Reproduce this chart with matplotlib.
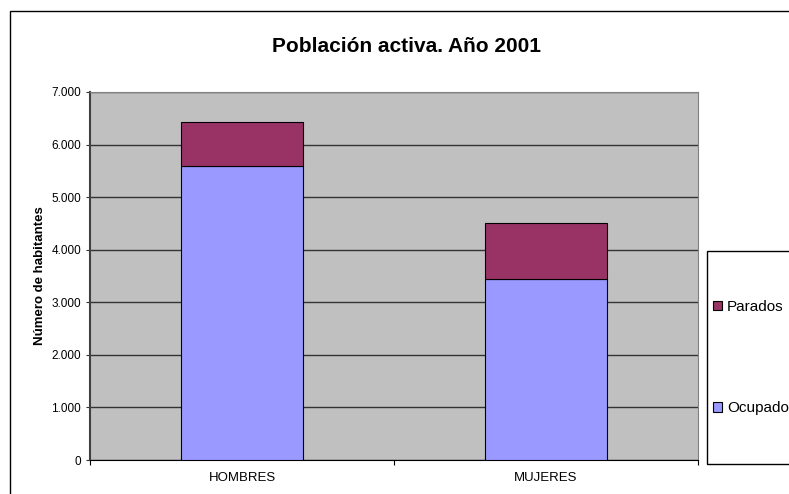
import matplotlib.pyplot as plt
from matplotlib.patches import Rectangle, Patch

categorias = ['HOMBRES', 'MUJERES']
ocupados = [5600, 3450]
parados = [820, 1060]
yticks = [0, 1000, 2000, 3000, 4000, 5000, 6000, 7000]
ylabels = ['0', '1.000', '2.000', '3.000', '4.000', '5.000', '6.000', '7.000']

plt.rcParams['font.family'] = ['Liberation Sans', 'DejaVu Sans']

W, H = 789, 494
fig = plt.figure(figsize=(W / 100, H / 100), dpi=100)
ax = fig.add_axes([90 / W, (H - 460) / H, (698 - 90) / W, (460 - 92) / H])
ax.set_facecolor('#C0C0C0')

x = [0, 1]
ax.bar(x, ocupados, width=0.4, color='#9999FF', edgecolor='black', linewidth=0.8,
       label='Ocupados', zorder=3)
ax.bar(x, parados, width=0.4, bottom=ocupados, color='#993366', edgecolor='black',
       linewidth=0.8, label='Parados', zorder=3)

ax.set_xlim(-0.5, 1.5)
ax.set_ylim(0, 7000)
ax.set_yticks(yticks)
ax.set_yticklabels(ylabels, fontsize=8.5)
ax.grid(axis='y', color='#333333', linewidth=1, zorder=1)
ax.set_axisbelow(True)
ax.tick_params(axis='y', direction='out', length=3, width=0.8, pad=3.5, color='#333333')

ax.set_xticks([-0.5, 0.5, 1.5])
ax.set_xticklabels(['', '', ''])
ax.tick_params(axis='x', which='major', direction='out', length=3.6, width=0.8)
ax.set_xticks(x, minor=True)
ax.set_xticklabels(categorias, minor=True, fontsize=9.5)
ax.tick_params(axis='x', which='minor', length=0, pad=8.5)

ax.spines['left'].set_color('#404040')
ax.spines['left'].set_linewidth(1.5)
ax.spines['bottom'].set_color('black')
ax.spines['top'].set_color('#808080')
ax.spines['right'].set_color('#808080')

ax.set_ylabel('Número de habitantes', fontsize=9.5, fontweight='bold', labelpad=4)

fig.text(406 / W, 1 - 47 / H, 'Población activa. Año 2001', ha='center', va='center',
         fontsize=15, fontweight='bold')

# marco exterior del gráfico
fig.patches.append(Rectangle((10 / W, -0.1), 2, (H - 11) / H + 0.1, transform=fig.transFigure,
                             fill=False, edgecolor='black', linewidth=1))
# marco de la leyenda
fig.patches.append(Rectangle((707 / W, (H - 464) / H), 1, (464 - 251) / H, transform=fig.transFigure,
                             fill=False, edgecolor='black', linewidth=1))

handles = [Patch(facecolor='#993366', edgecolor='black', linewidth=0.8, label='Parados'),
           Patch(facecolor='#9999FF', edgecolor='black', linewidth=0.8, label='Ocupados')]
fig.legend(handles=handles, loc='center left', bbox_to_anchor=(713 / W, 1 - 357.5 / H),
           frameon=False, fontsize=11, handlelength=0.6, handleheight=0.6,
           handletextpad=0.33, borderpad=0, borderaxespad=0, labelspacing=5.7)

fig.savefig('out.png', dpi=100)
